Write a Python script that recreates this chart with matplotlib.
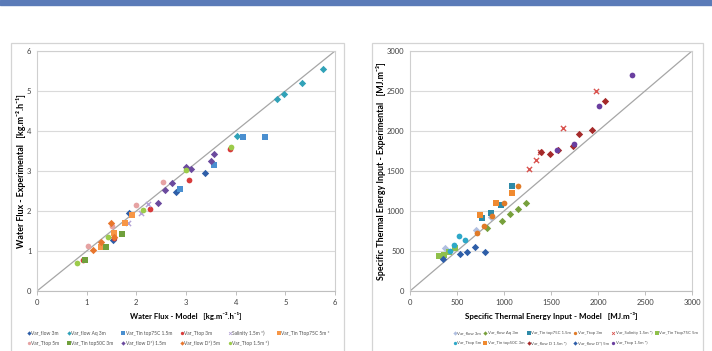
import matplotlib
matplotlib.use('Agg')
import matplotlib.pyplot as plt
from matplotlib.lines import Line2D
from matplotlib.patches import Rectangle

plt.rcParams['font.family'] = ['Lato', 'DejaVu Sans']

# ---------------- Left chart data: Water flux (model vs experimental) ----------------
left_names = ["Var_flow 3m", "Var_flow Aq 3m", "Var_Tin top75C 1.5m", "Var_Ttop 3m",
              "Salinity 1.5m *)", "Var_Tin Ttop75C 5m *", "Var_Ttop 5m",
              "Var_Tin top50C 3m", "Var_flow D*) 1.5m", "Var_flow D*) 5m", "Var_Ttop 1.5m *)"]
left_x = [
    [3.38, 2.80, 1.86, 1.53],
    [5.75, 5.33, 4.98, 4.83, 4.03],
    [4.15, 4.60, 3.57, 2.88],
    [3.88, 3.07, 2.28, 1.56, 0.93],
    [2.23, 2.10, 1.83],
    [1.92, 1.77, 1.55, 1.29],
    [2.54, 2.00, 1.50, 1.03],
    [1.72, 1.39, 0.96],
    [3.57, 3.51, 3.10, 2.99, 2.72, 2.58, 2.44],
    [1.48, 1.55, 1.29, 1.13],
    [3.90, 3.01, 2.14, 1.42, 0.80],
]
left_y = [
    [2.94, 2.48, 1.95, 1.27],
    [5.56, 5.20, 4.93, 4.80, 3.88],
    [3.84, 3.84, 3.16, 2.56],
    [3.54, 2.77, 2.04, 1.33, 0.78],
    [2.18, 1.96, 1.71],
    [1.90, 1.70, 1.45, 1.09],
    [2.72, 2.16, 1.62, 1.13],
    [1.42, 1.11, 0.77],
    [3.42, 3.25, 3.06, 3.11, 2.71, 2.53, 2.20],
    [1.70, 1.35, 1.23, 1.03],
    [3.61, 3.02, 2.02, 1.36, 0.71],
]
left_marker = ['D', 'D', 's', 'o', 'x', 's', 'o', 's', 'D', 'D', 'o']
left_color = ['#2e5ea8', '#31a2b8', '#4a8fd0', '#d83b3b', '#b3a2d6', '#f79646',
              '#e6a3a3', '#70a03c', '#6b4a9e', '#e8762d', '#9ccb4a']
left_ticks = [0, 1, 2, 3, 4, 5, 6]

# ---------------- Right chart data: Specific thermal energy input ----------------
right_names = ["Var_flow 3m", "Var_flow Aq 3m", "Var_Tin top75C 1.5m", "Var_Ttop 3m",
               "Var_Salinity 1.5m *)", "Var_Tin Ttop75C 5m", "Var_Ttop 5m",
               "Var_Tin top50C 3m", "Var_flow D 1.5m *)", "Var_flow D*) 5m", "Var_Ttop 1.5m *)"]
right_x = [
    [376, 699, 866],
    [1235, 1150, 1069, 976, 816],
    [1090, 969, 866, 770],
    [1154, 1001, 877, 785, 717],
    [1977, 1629, 1381, 1345, 1271],
    [305, 362, 419, 479],
    [522, 586, 469, 430],
    [1090, 912, 742],
    [2077, 1938, 1803, 1729, 1573, 1491, 1395],
    [355, 529, 611, 692, 799],
    [2357, 2009, 1743, 1569],
]
right_y = [
    [535, 765, 919],
    [1095, 1020, 961, 878, 790],
    [1308, 1074, 974, 907],
    [1308, 1099, 932, 815, 731],
    [2495, 2039, 1743, 1638, 1525],
    [439, 451, 489, 543],
    [690, 639, 573, 501],
    [1224, 1103, 953],
    [2369, 2014, 1968, 1818, 1768, 1709, 1743],
    [397, 460, 485, 552, 493],
    [2699, 2307, 1839, 1763],
]
right_marker = ['D', 'D', 's', 'o', 'x', 's', 'o', 's', 'D', 'D', 'o']
right_color = ['#b0bfe0', '#77a03c', '#2e8aa8', '#e07b28', '#d9534f', '#8fc04a',
               '#2ea8c8', '#f08a30', '#a52a2a', '#2e5ea8', '#6a3fa0']
right_ticks = [0, 500, 1000, 1500, 2000, 2500, 3000]

W, H = 712, 351
fig = plt.figure(figsize=(W / 100, H / 100), dpi=100)
renderer = fig.canvas.get_renderer()


def fx(px):
    return px / W


def fy(py):
    return 1 - py / H


# top band
fig.patches.append(Rectangle((0, fy(5)), 1, 5 / H, transform=fig.transFigure,
                             color='#5b7bb8', zorder=0))
# panel frames
for x0, x1 in [(11, 344), (372, 703)]:
    fig.patches.append(Rectangle((fx(x0), fy(370)), (x1 - x0) / W, (370 - 43) / H,
                                 transform=fig.transFigure, fill=False,
                                 ec='#d4d4d4', lw=0.9, zorder=0))


def style_axes(ax, ticks):
    ax.set_xlim(ticks[0], ticks[-1])
    ax.set_ylim(ticks[0], ticks[-1])
    ax.set_xticks(ticks)
    ax.set_yticks(ticks)
    ax.set_xticklabels([str(t) for t in ticks])
    ax.set_yticklabels([str(t) for t in ticks])
    for s in ax.spines.values():
        s.set_color('#cfcfcf')
        s.set_linewidth(0.8)
    ax.spines['bottom'].set_color('#bfbfbf')
    ax.yaxis.grid(True, color='#dadada', lw=0.8)
    ax.set_axisbelow(True)
    ax.tick_params(axis='y', length=0, pad=4, labelsize=5.5, colors='#404040')
    ax.tick_params(axis='x', length=3, width=0.7, direction='out', pad=3,
                   labelsize=5.5, colors='#404040')
    ax.tick_params(axis='x', color='#bfbfbf')
    ax.plot([ticks[0], ticks[-1]], [ticks[0], ticks[-1]], color='#a6a6a6', lw=0.9, zorder=1)


def draw(ax, xs, ys, markers, colors):
    for x, y, m, c in zip(xs, ys, markers, colors):
        if m == 'x':
            ax.scatter(x, y, marker='x', s=14, color=c, linewidths=1.0, zorder=3)
        else:
            s = 14 if m == 'D' else 17
            ax.scatter(x, y, marker=m, s=s, color=c, linewidths=0, zorder=3)


def legend(names, markers, colors, x_start, x_end, y_rows, fs):
    # build texts, measure, then lay out in 6 columns (row-major, 6 + 5)
    texts = []
    for n in names:
        texts.append(fig.text(0, 0, n, fontsize=fs, color='#505050', va='center', ha='left'))
    widths = [t.get_window_extent(renderer).width for t in texts]
    ncol = 6
    colw = [0] * ncol
    for i, w in enumerate(widths):
        col = i % ncol
        colw[col] = max(colw[col], w)
    mk = 3.0  # marker + gap
    total = sum(colw) + ncol * mk
    gap = (x_end - x_start - total) / (ncol - 1)
    starts = []
    x = x_start
    for c in range(ncol):
        starts.append(x)
        x += mk + colw[c] + gap
    for i, (t, m, c) in enumerate(zip(texts, markers, colors)):
        row = i // ncol
        col = i % ncol
        px = starts[col]
        py = y_rows[row]
        t.set_position((fx(px + mk), fy(py)))
        if m == 'x':
            fig.add_artist(Line2D([fx(px + 0.5)], [fy(py)], marker='x', color=c, ms=2.0,
                                  mew=0.6, transform=fig.transFigure))
        else:
            fig.add_artist(Line2D([fx(px + 0.5)], [fy(py)], marker=m, color=c,
                                  ms=2.2 if m == 'D' else 2.4, mew=0,
                                  transform=fig.transFigure))


# ---------- Left axes ----------
ax1 = fig.add_axes([fx(37), fy(291), (335 - 37) / W, (291 - 51) / H])
style_axes(ax1, left_ticks)
draw(ax1, left_x, left_y, left_marker, left_color)
ax1.set_xlabel('Water Flux - Model   [kg.m\u207b\u00b2.h\u207b\u00b9]', fontsize=5.6,
               fontweight='bold', labelpad=4)
ax1.set_ylabel('Water Flux - Experimental   [kg.m\u207b\u00b2.h\u207b\u00b9]', fontsize=6.4,
               fontweight='bold', labelpad=0.5)
legend(left_names, left_marker, left_color, 28, 330, [333, 343], 3.5)

# ---------- Right axes ----------
ax2 = fig.add_axes([fx(410), fy(291), (692 - 410) / W, (291 - 51) / H])
style_axes(ax2, right_ticks)
draw(ax2, right_x, right_y, right_marker, right_color)
ax2.set_xlabel('Specific Thermal Energy Input - Model   [MJ.m\u207b\u00b3]', fontsize=5.8,
               fontweight='bold', labelpad=4)
ax2.set_ylabel('Specific Thermal Energy Input - Experimental   [MJ.m\u207b\u00b3]',
               fontsize=6.4, fontweight='bold', labelpad=0.5)
legend(right_names, right_marker, right_color, 454, 698, [333, 343], 3.1)

fig.savefig('out.png', dpi=100)
